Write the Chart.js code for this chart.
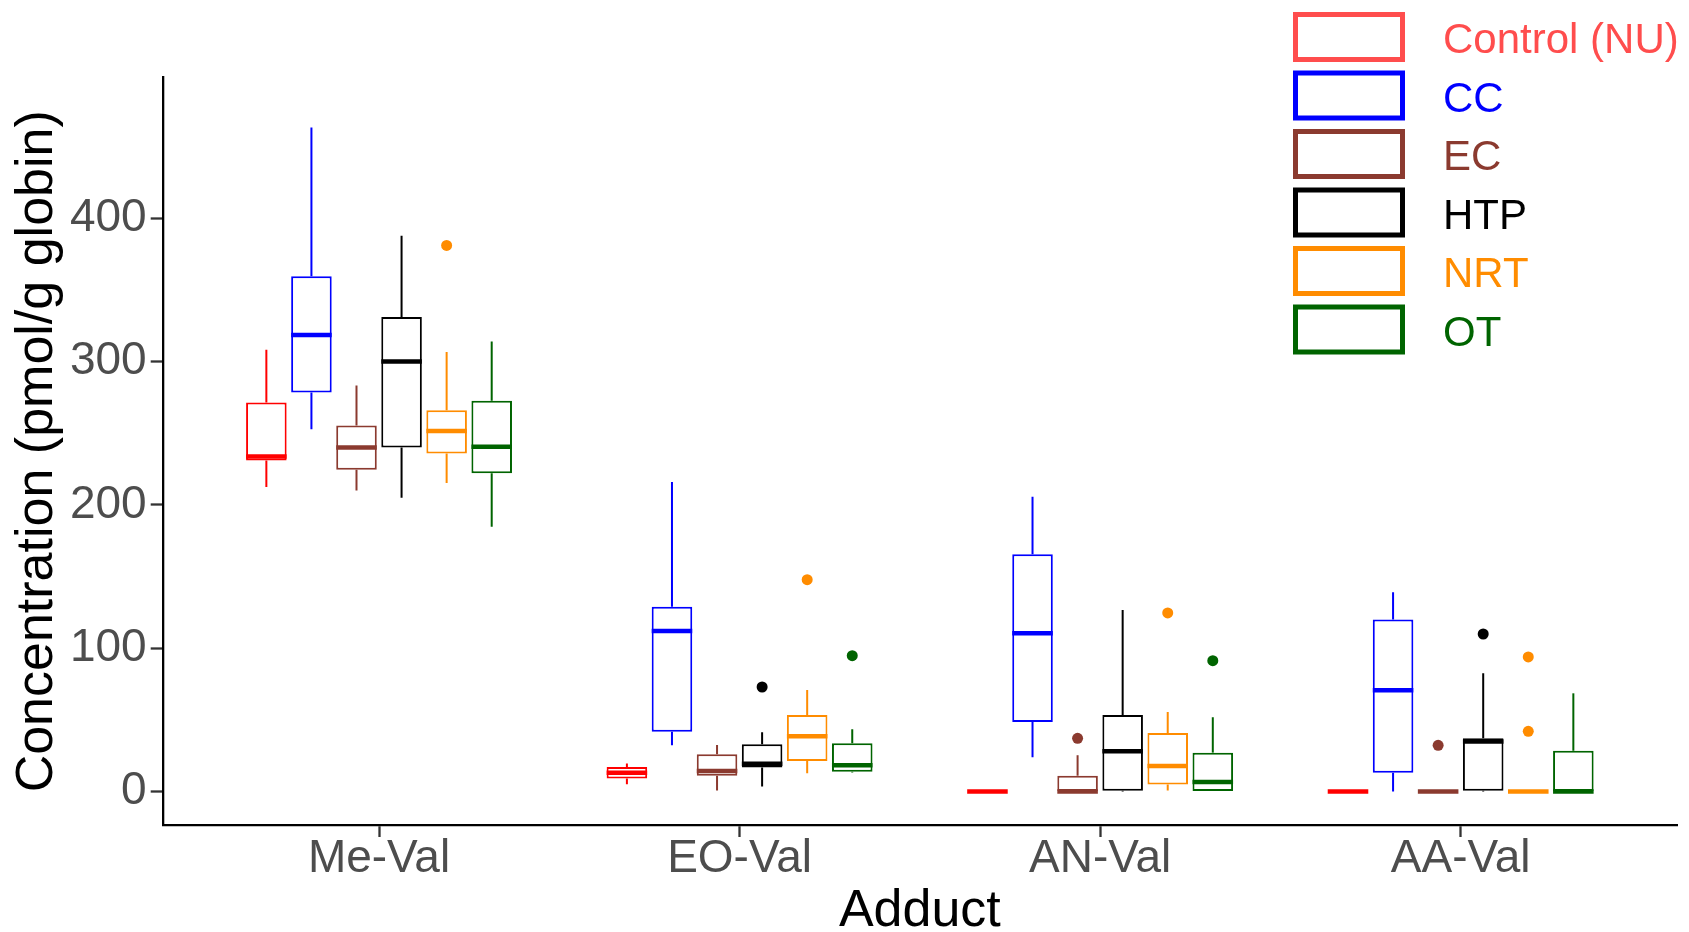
<!DOCTYPE html>
<html>
<head>
<meta charset="utf-8">
<script src="https://cdn.jsdelivr.net/npm/chart.js@4.4.0/dist/chart.umd.min.js"></script>
<style>
  html, body { margin: 0; padding: 0; background: #fff; }
  #wrap { width: 1689px; height: 932px; }
</style>
</head>
<body>
<div id="wrap"><canvas id="chart" width="1689" height="932"></canvas></div>
<script>
// categories and groups
const adducts = ["Me-Val", "EO-Val", "AN-Val", "AA-Val"];
const groups = ["Control (NU)", "CC", "EC", "HTP", "NRT", "OT"];
const yTicks = [0, 100, 200, 300, 400];

// box stats: one row per group, one value per adduct
const whiskerLow = [
  [212.5, 5.0, 0, 0],
  [252.8, 32.2, 23.9, 0],
  [210.1, 0.6, 0, 0],
  [205.0, 3.4, 0, 0],
  [215.3, 12.7, 0.6, 0],
  [184.8, 13.2, 0, 0]
];
const q1 = [
  [231.0, 9.0, 0, 0],
  [278.5, 41.7, 48.5, 13.1],
  [224.6, 11.0, 0, 0],
  [240.0, 16.8, 0.5, 0.5],
  [235.8, 21.3, 4.8, 0],
  [222.0, 13.8, 0, 0]
];
const median = [
  [233.8, 13.0, 0, 0],
  [318.6, 112.0, 110.4, 70.6],
  [240.0, 14.3, 0, 0],
  [300.0, 19.3, 28.0, 34.8],
  [251.5, 38.5, 17.8, 0],
  [240.6, 18.3, 6.6, 0]
];
const q3 = [
  [271.4, 17.0, 0, 0],
  [359.6, 129.0, 165.5, 120.1],
  [255.4, 25.9, 11.0, 0],
  [331.1, 33.0, 53.4, 37.2],
  [266.0, 53.4, 40.8, 0],
  [272.7, 33.7, 27.1, 28.4]
];
const whiskerHigh = [
  [308.3, 19.5, 0, 0],
  [463.3, 215.9, 205.7, 139.0],
  [283.3, 32.4, 25.3, 0],
  [387.9, 41.3, 126.7, 82.5],
  [306.7, 70.8, 55.5, 0],
  [314.1, 43.4, 51.8, 68.5]
];
const outliers = [
  [[], [], [], []],
  [[], [], [], []],
  [[], [], [37.1], [32.2]],
  [[], [72.9], [], [109.9]],
  [[381.1], [147.8], [124.6], [93.9, 42.0]],
  [[], [94.8], [91.3], []]
];

const boxColors = ["#FF0000", "#0000FF", "#8B3A2F", "#000000", "#FF8C00", "#006400"];
const legendColors = ["#FF4D4D", "#0000FF", "#8B3A2F", "#000000", "#FF8C00", "#006400"];

const FONT = "'Liberation Sans', Arial, sans-serif";

// whiskers under the boxes
const whiskerPlugin = {
  id: "whiskers",
  beforeDatasetsDraw(chart) {
    const ctx = chart.ctx;
    const y = chart.scales.y;
    ctx.save();
    chart.data.datasets.forEach((ds, i) => {
      const meta = chart.getDatasetMeta(i);
      meta.data.forEach((bar, j) => {
        const x = bar.x;
        ctx.strokeStyle = boxColors[i];
        ctx.lineWidth = 2;
        ctx.beginPath();
        ctx.moveTo(x, y.getPixelForValue(q3[i][j]));
        ctx.lineTo(x, y.getPixelForValue(whiskerHigh[i][j]));
        ctx.moveTo(x, y.getPixelForValue(q1[i][j]));
        ctx.lineTo(x, y.getPixelForValue(whiskerLow[i][j]));
        ctx.stroke();
      });
    });
    ctx.restore();
  },
  // medians and outlier dots on top
  afterDatasetsDraw(chart) {
    const ctx = chart.ctx;
    const y = chart.scales.y;
    ctx.save();
    chart.data.datasets.forEach((ds, i) => {
      const meta = chart.getDatasetMeta(i);
      meta.data.forEach((bar, j) => {
        const x = bar.x, w = bar.width;
        ctx.strokeStyle = boxColors[i];
        ctx.lineWidth = 4.5;
        ctx.lineCap = "butt";
        const my = y.getPixelForValue(median[i][j]);
        ctx.beginPath();
        ctx.moveTo(x - w / 2, my);
        ctx.lineTo(x + w / 2, my);
        ctx.stroke();
        ctx.fillStyle = boxColors[i];
        outliers[i][j].forEach(v => {
          ctx.beginPath();
          ctx.arc(x, y.getPixelForValue(v), 5.5, 0, Math.PI * 2);
          ctx.fill();
        });
      });
    });
    ctx.restore();
  }
};

// legend drawn inside the top right corner, like ggplot
const legendPlugin = {
  id: "boxLegend",
  afterDraw(chart) {
    const ctx = chart.ctx;
    const left = 1295.5, top = 14.5, step = 58.5;
    ctx.save();
    ctx.font = "42px " + FONT;
    ctx.textBaseline = "middle";
    ctx.textAlign = "left";
    chart.data.datasets.forEach((ds, i) => {
      const ty = top + i * step;
      ctx.strokeStyle = legendColors[i];
      ctx.lineWidth = 5;
      ctx.strokeRect(left, ty, 107, 45);
      ctx.fillStyle = legendColors[i];
      ctx.fillText(ds.label, 1443, ty + 27);
    });
    ctx.restore();
  }
};

const datasets = groups.map((g, i) => ({
  label: g,
  data: adducts.map((a, j) => ({ x: j, y: [q1[i][j], q3[i][j]] })),
  backgroundColor: "#FFFFFF",
  borderColor: boxColors[i],
  borderWidth: 2,
  borderSkipped: false,
  categoryPercentage: 0.75,
  barPercentage: 0.9
}));

new Chart(document.getElementById("chart"), {
  type: "bar",
  data: { datasets },
  options: {
    responsive: false,
    devicePixelRatio: 1,
    animation: false,
    layout: { padding: { left: 0, right: 12, top: 77.6, bottom: 0 } },
    plugins: {
      legend: { display: false },
      tooltip: { enabled: false }
    },
    scales: {
      x: {
        type: "linear",
        min: -0.6,
        max: 3.6,
        offset: false,
        afterBuildTicks: s => { s.ticks = adducts.map((a, i) => ({ value: i })); },
        afterFit: s => { s.height = 107; },
        ticks: {
          callback: v => adducts[v],
          autoSkip: false,
          maxRotation: 0,
          color: "#4D4D4D",
          font: { family: FONT, size: 46 },
          padding: -5
        },
        grid: {
          display: true,
          offset: false,
          drawOnChartArea: false,
          drawTicks: true,
          tickLength: 12,
          tickColor: "#333333",
          tickWidth: 2.3
        },
        border: { display: true, color: "#000000", width: 2.3 },
        title: {
          display: true,
          text: "Adduct",
          color: "#000000",
          font: { family: FONT, size: 52, lineHeight: 0.77 },
          padding: { top: 0, bottom: 0 }
        }
      },
      y: {
        min: -23.4,
        max: 498.2,
        afterBuildTicks: s => { s.ticks = yTicks.map(v => ({ value: v })); },
        afterFit: s => { s.width = 162.7; },
        ticks: {
          callback: v => String(v),
          autoSkip: false,
          color: "#4D4D4D",
          font: { family: FONT, size: 46 },
          padding: 4
        },
        grid: {
          display: true,
          drawOnChartArea: false,
          drawTicks: true,
          tickLength: 12,
          tickColor: "#333333",
          tickWidth: 2.3
        },
        border: { display: true, color: "#000000", width: 2.3 },
        title: {
          display: true,
          text: "Concentration (pmol/g globin)",
          color: "#000000",
          font: { family: FONT, size: 52, lineHeight: 0.88 },
          padding: { top: 15, bottom: 0 }
        }
      }
    }
  },
  plugins: [whiskerPlugin, legendPlugin]
});
</script>
</body>
</html>
